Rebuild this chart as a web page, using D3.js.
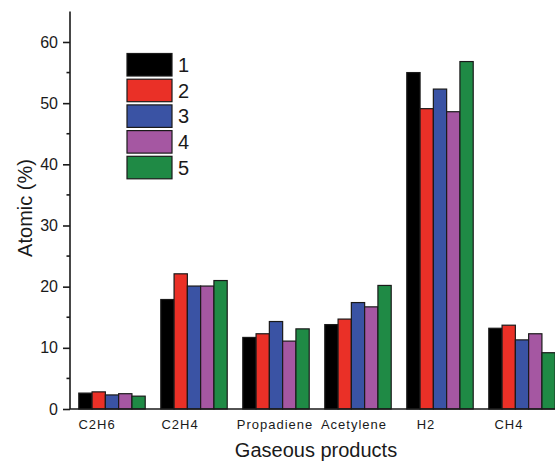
<!DOCTYPE html>
<html><head><meta charset="utf-8">
<script src="https://cdn.jsdelivr.net/npm/d3@7"></script>
<style>body{margin:0;background:#fff}svg{display:block}text{font-family:"Liberation Sans",Arial,sans-serif;fill:#1a1a1a}</style>
</head><body><svg id="c" width="555" height="462"></svg>
<script>
const categories = ["C2H6","C2H4","Propadiene","Acetylene","H2","CH4"];
const seriesNames = ["1","2","3","4","5"];
const s1 = [2.6, 17.9, 11.7, 13.8, 55.0, 13.2];
const s2 = [2.8, 22.1, 12.3, 14.7, 49.1, 13.7];
const s3 = [2.3, 20.1, 14.3, 17.4, 52.3, 11.3];
const s4 = [2.5, 20.1, 11.1, 16.7, 48.6, 12.3];
const s5 = [2.1, 21.0, 13.1, 20.2, 56.8, 9.2];
const yTicks = [0,10,20,30,40,50,60];
const yMinor = [5,15,25,35,45,55];

const colors = ["#000000","#ea3027","#3a53a4","#a557a2","#1f8a45"];
const labelShift = [-15,-14,-1,-4,-14,-13];
const series = [s1,s2,s3,s4,s5];

const svg = d3.select("#c");
const x = d3.scaleBand().domain(categories).range([71,563]).paddingInner(0.19).paddingOuter(0.095);
const xs = d3.scaleBand().domain(seriesNames).range([0,x.bandwidth()]);
const y = d3.scaleLinear().domain([0,65]).range([409,11.4]);

// bars
categories.forEach((c,ci)=>{
  series.forEach((s,si)=>{
    svg.append("rect")
      .attr("x", x(c)+xs(seriesNames[si]))
      .attr("y", y(s[ci]))
      .attr("width", xs.bandwidth())
      .attr("height", y(0)-y(s[ci]))
      .attr("fill", colors[si])
      .attr("stroke","#1a1a1a").attr("stroke-width",1.2);
  });
});

// y axis
const yAxis = d3.axisLeft(y).tickValues(yTicks).tickSize(7).tickPadding(5);
const gy = svg.append("g").attr("transform","translate(70,0)").call(yAxis);
gy.select(".domain").attr("stroke","#1a1a1a").attr("stroke-width",1.6).attr("d","M0,"+y(65)+"V"+y(0));
gy.selectAll(".tick line").attr("stroke","#1a1a1a").attr("stroke-width",1.6);
gy.selectAll(".tick text").style("font-size","16px").attr("fill","#1a1a1a");
gy.selectAll(".minor").data(yMinor).enter().append("line").attr("class","minor")
  .attr("x1",-3.5).attr("x2",0).attr("y1",d=>y(d)).attr("y2",d=>y(d))
  .attr("stroke","#1a1a1a").attr("stroke-width",1.6);

// x axis line
svg.append("line").attr("x1",70).attr("x2",555).attr("y1",y(0)).attr("y2",y(0))
  .attr("stroke","#1a1a1a").attr("stroke-width",1.6);

// x labels
svg.selectAll(".xl").data(categories).enter().append("text").attr("class","xl")
  .attr("x",(d,i)=>x(d)+x.bandwidth()/2+labelShift[i]).attr("y",429)
  .attr("text-anchor","middle").style("font-size","13px").style("letter-spacing","1px")
  .text(d=>d);

// axis titles
svg.append("text").attr("x",316).attr("y",457).attr("text-anchor","middle")
  .style("font-size","20px").text("Gaseous products");
svg.append("text").attr("transform","translate(32,208) rotate(-90)").attr("text-anchor","middle")
  .style("font-size","20px").text("Atomic (%)");

// legend
const lg = svg.append("g");
seriesNames.forEach((n,i)=>{
  lg.append("rect").attr("x",127).attr("y",53.5+i*25.7).attr("width",45).attr("height",22.5)
    .attr("fill",colors[i]).attr("stroke","#1a1a1a").attr("stroke-width",1.2);
  lg.append("text").attr("x",178).attr("y",72+i*25.7).style("font-size","20px").text(n);
});
</script></body></html>
